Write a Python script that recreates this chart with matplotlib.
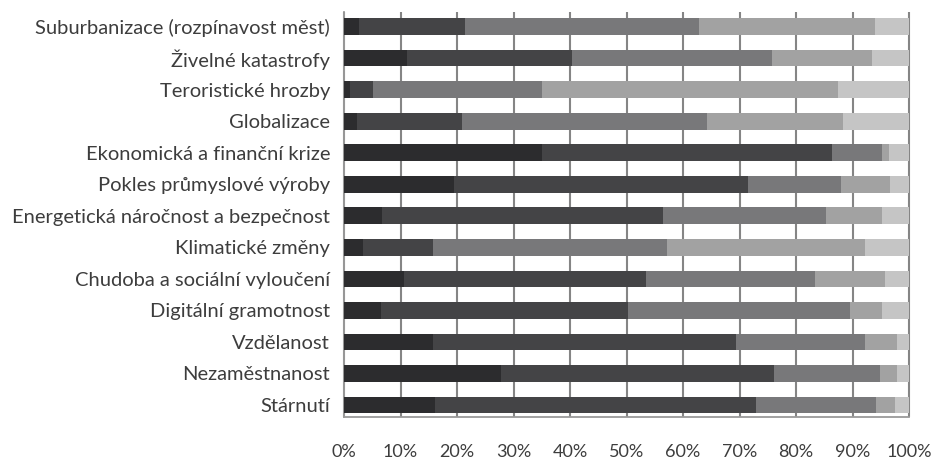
import matplotlib
matplotlib.use("Agg")
import matplotlib.pyplot as plt
import numpy as np

categories = ["Suburbanizace (rozpínavost měst)", "Živelné katastrofy", "Teroristické hrozby",
              "Globalizace", "Ekonomická a finanční krize", "Pokles průmyslové výroby",
              "Energetická náročnost a bezpečnost", "Klimatické změny",
              "Chudoba a sociální vyloučení", "Digitální gramotnost", "Vzdělanost",
              "Nezaměstnanost", "Stárnutí"]

s1 = [2.7, 11.1, 1.1, 2.3, 35.0, 19.5, 6.8, 3.3, 10.7, 6.6, 15.8, 27.8, 16.1]
s2 = [18.8, 29.2, 4.0, 18.6, 51.3, 52.0, 49.6, 12.5, 42.7, 43.6, 53.5, 48.3, 56.9]
s3 = [41.4, 35.5, 29.9, 43.4, 8.9, 16.4, 28.9, 41.3, 29.9, 39.4, 22.9, 18.7, 21.1]
s4 = [31.1, 17.7, 52.5, 24.0, 1.2, 8.8, 9.9, 35.1, 12.4, 5.7, 5.7, 3.1, 3.4]
s5 = [6.0, 6.5, 12.5, 11.7, 3.6, 3.3, 4.8, 7.8, 4.3, 4.7, 2.1, 2.1, 2.5]

xticks = [0, 10, 20, 30, 40, 50, 60, 70, 80, 90, 100]
xticklabels = [f"{v}%" for v in xticks]

series = [s1, s2, s3, s4, s5]
colors = ["#2c2c2e", "#444446", "#78787a", "#a2a2a2", "#c5c5c5"]

plt.rcParams['font.family'] = ['Lato', 'DejaVu Sans']

fig = plt.figure(figsize=(9.35, 4.65), dpi=100)
ax = fig.add_axes([344/935, (465-416.7)/465, (909-344)/935, (416.7-11.7)/465])

n = len(categories)
y = np.arange(n)[::-1]
ylo, yhi = -0.37, 12.47
for xv in xticks:
    ax.plot([xv, xv], [ylo, yhi], color="#858585", linewidth=1.5, zorder=2,
            solid_capstyle='butt', clip_on=False)

left = np.zeros(n)
for vals, c in zip(series, colors):
    vals = np.array(vals)
    ax.barh(y, vals, left=left, height=0.53, color=c, edgecolor='none', zorder=3)
    left += vals

ax.set_xlim(0, 100)
ax.set_ylim(ylo, yhi)
ax.set_xticks(xticks)
ax.set_xticklabels(xticklabels, fontsize=13, color="#3d3d3d")
ax.set_yticks(y)
ax.set_yticklabels(categories, fontsize=14.5, color="#3d3d3d")
ax.tick_params(axis='x', length=0, pad=19.5)
ax.tick_params(axis='y', length=0, pad=10)
for s in ['top', 'right']:
    ax.spines[s].set_visible(False)
for s in ['left', 'bottom']:
    ax.spines[s].set_color("#9a9a9a")
    ax.spines[s].set_linewidth(1.3)

fig.savefig("out.png", dpi=100)
